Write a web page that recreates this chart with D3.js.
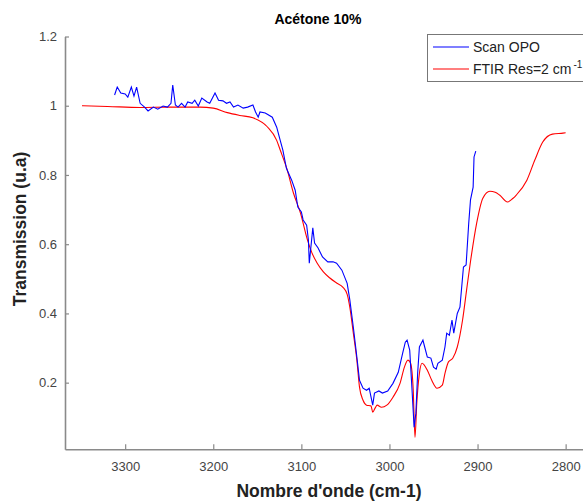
<!DOCTYPE html>
<html>
<head>
<meta charset="utf-8">
<script src="https://cdn.jsdelivr.net/npm/d3@7"></script>
<style>
  html, body { margin: 0; padding: 0; background: #fff; }
  svg { display: block; font-family: "Liberation Sans", Arial, sans-serif; }
</style>
</head>
<body>
<svg id="chart" width="583" height="504"></svg>
<script>
const titleText = "Acétone 10%";
const xLabel = "Nombre d'onde (cm-1)";
const yLabel = "Transmission (u.a)";
const seriesNames = ["Scan OPO", "FTIR Res=2 cm"];
const xTicks = [3300, 3200, 3100, 3000, 2900, 2800];
const yTicks = [0.2, 0.4, 0.6, 0.8, 1, 1.2];

const opoWavenumber = [3312,3309,3305,3300,3297,3293,3290,3287,3283,3278,3274,3268,3263,3257,3252,3248,3246,3243,3240,3236,3232,3229,3224,3221,3217,3213,3207,3204,3198,3194,3189,3185,3181,3177,3172,3166,3161,3155,3152,3149,3147,3141,3133,3128,3124,3121,3117,3115,3111,3107,3104,3100,3098,3094,3092,3091,3087,3085,3081,3076,3070,3064,3060,3054,3048,3045,3041,3037,3034,3030,3026,3023,3019,3017,3012,3008,3002,2996,2990,2985,2982,2980,2977,2975,2972,2970,2968,2966,2962,2960,2957,2953,2950,2947,2945,2940,2937,2935,2932,2929,2927,2923,2920,2916,2913,2910,2908,2905,2904,2902];
const opoValue = [1.031,1.054,1.037,1.034,1.025,1.054,1.028,1.054,1.007,0.996,0.985,0.996,0.990,0.999,0.996,1.007,1.060,1.002,0.996,1.007,0.996,1.011,1.007,1.016,0.999,1.022,1.011,1.007,1.037,1.016,1.014,1.007,1.011,0.996,1.002,0.993,0.996,1.002,0.982,0.967,0.982,0.979,0.967,0.938,0.900,0.872,0.820,0.808,0.785,0.756,0.707,0.693,0.670,0.655,0.612,0.545,0.647,0.603,0.589,0.563,0.549,0.549,0.545,0.525,0.487,0.439,0.360,0.274,0.207,0.184,0.178,0.184,0.135,0.170,0.176,0.170,0.176,0.198,0.230,0.285,0.317,0.323,0.294,0.207,0.071,0.112,0.227,0.303,0.323,0.303,0.274,0.271,0.245,0.239,0.256,0.265,0.303,0.343,0.337,0.381,0.343,0.400,0.418,0.534,0.540,0.661,0.728,0.765,0.852,0.869];

const ftirWavenumber = [3349,3320,3283,3250,3215,3200,3184,3170,3155,3139,3128,3124,3116,3109,3101,3093,3088,3082,3075,3068,3060,3053,3048,3045,3041,3037,3034,3030,3026,3021,3019,3016,3014,3009,3003,2996,2988,2983,2979,2976,2973,2971,2969,2966,2963,2957,2952,2946,2940,2937,2933,2928,2923,2917,2912,2908,2901,2894,2886,2880,2875,2866,2860,2856,2844,2835,2826,2815,2803,2800];
const ftirValue = [1.000,0.998,0.995,0.996,0.996,0.993,0.980,0.972,0.965,0.940,0.900,0.872,0.814,0.748,0.690,0.612,0.575,0.545,0.520,0.503,0.488,0.476,0.455,0.418,0.343,0.265,0.187,0.149,0.135,0.133,0.115,0.128,0.135,0.129,0.135,0.158,0.198,0.245,0.265,0.256,0.178,0.042,0.140,0.227,0.256,0.236,0.207,0.184,0.193,0.227,0.260,0.271,0.303,0.381,0.476,0.550,0.661,0.733,0.753,0.750,0.742,0.722,0.732,0.742,0.785,0.843,0.895,0.918,0.921,0.922];

const svg = d3.select("#chart");
const axisColor = "#8a8a8a";
const textColor = "#444";

const x = d3.scaleLinear().domain([3368.3, 2761]).range([65, 600]);
const y = d3.scaleLinear().domain([0.0075, 1.2]).range([449.3, 36.5]);

// Axes
const xAxis = d3.axisBottom(x).tickValues(xTicks).tickSizeInner(-5).tickSizeOuter(0).tickPadding(12).tickFormat(d3.format("d"));
const gx = svg.append("g").attr("transform", `translate(0,${y.range()[0]})`).call(xAxis);
const yAxis = d3.axisLeft(y).tickValues(yTicks).tickSizeInner(-4).tickSizeOuter(0).tickPadding(8).tickFormat(d => String(+d.toFixed(1)));
const gy = svg.append("g").attr("transform", `translate(${x.range()[0]},0)`).call(yAxis);

[gx, gy].forEach(g => {
  g.select(".domain").attr("stroke", axisColor).attr("stroke-width", 1.6);
  g.selectAll(".tick line").attr("stroke", axisColor).attr("stroke-width", 1.2);
  g.selectAll(".tick text").attr("fill", textColor).style("font-size", "13px")
    .style("font-family", '"Liberation Sans", Arial, sans-serif');
});

// Lines
svg.append("clipPath").attr("id", "plotclip").append("rect")
  .attr("x", 65).attr("y", 30).attr("width", 540).attr("height", 420);

const opoData = opoWavenumber.map((w, i) => [w, opoValue[i]]);
const ftirData = ftirWavenumber.map((w, i) => [w, ftirValue[i]]);

svg.append("path").datum(ftirData)
  .attr("clip-path", "url(#plotclip)")
  .attr("fill", "none").attr("stroke", "#ff0000").attr("stroke-width", 1.1)
  .attr("d", d3.line().x(d => x(d[0])).y(d => y(d[1])).curve(d3.curveMonotoneX));
svg.append("path").datum(opoData)
  .attr("clip-path", "url(#plotclip)")
  .attr("fill", "none").attr("stroke", "#0000ff").attr("stroke-width", 1.1)
  .attr("d", d3.line().x(d => x(d[0])).y(d => y(d[1])).curve(d3.curveLinear));

// Title
svg.append("text").attr("x", 318).attr("y", 24).attr("text-anchor", "middle")
  .attr("fill", "#000").style("font-size", "14px").style("font-weight", "bold").text(titleText);

// Axis labels
svg.append("text").attr("x", 329).attr("y", 497).attr("text-anchor", "middle")
  .attr("fill", "#222").style("font-size", "17.5px").style("font-weight", "bold").text(xLabel);
svg.append("text").attr("transform", "translate(26,229) rotate(-90)").attr("text-anchor", "middle")
  .attr("fill", "#222").style("font-size", "17.5px").style("font-weight", "bold").text(yLabel);

// Legend
const lg = svg.append("g");
lg.append("rect").attr("x", 427.5).attr("y", 34.5).attr("width", 180).attr("height", 47)
  .attr("fill", "#fff").attr("stroke", "#777").attr("stroke-width", 1);
const colors = ["#0000ff", "#ff0000"];
seriesNames.forEach((name, i) => {
  const yy = 47 + i * 22;
  lg.append("line").attr("x1", 433).attr("x2", 469).attr("y1", yy).attr("y2", yy)
    .attr("stroke", colors[i]).attr("stroke-width", 1.1);
  const t = lg.append("text").attr("x", 473).attr("y", yy + 5).attr("fill", "#222")
    .style("font-size", "14px").text(name);
  if (i === 1) {
    t.append("tspan").attr("dx", 2).attr("dy", -6).style("font-size", "10px").text("-1");
  }
});
</script>
</body>
</html>
